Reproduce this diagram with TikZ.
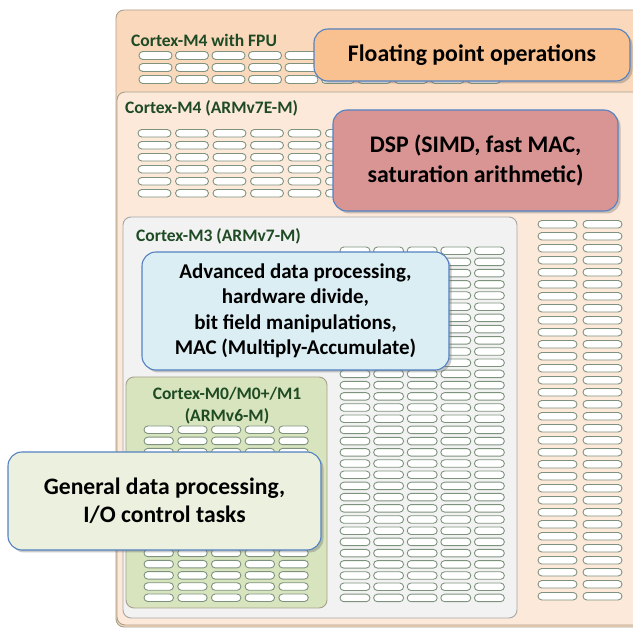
\documentclass[tikz,border=0pt]{standalone}
\usepackage{fontspec}
\setmainfont{Carlito}
\usetikzlibrary{shadows}

\definecolor{fpupeach}{HTML}{FAD8BC}
\definecolor{mfourpeach}{HTML}{FDE9DA}
\definecolor{mthreegray}{HTML}{F2F2F2}
\definecolor{mzerogreen}{HTML}{D7E4BD}
\definecolor{boxedge}{HTML}{A8A08C}
\definecolor{pilledge}{HTML}{7E937E}
\definecolor{labelgreen}{HTML}{1E4A24}
\definecolor{calloutedge}{HTML}{5482C2}
\definecolor{fpuorange}{HTML}{F9C190}
\definecolor{dsprose}{HTML}{D99594}
\definecolor{advblue}{HTML}{DBEEF4}
\definecolor{genlight}{HTML}{EBF1DE}

\begin{document}
\begin{tikzpicture}[x=1pt, y=-1pt, line join=round,
  pill/.style={draw=pilledge, fill=white, line width=0.9pt, rounded corners=3.8pt},
  corebox/.style={draw=boxedge, line width=0.9pt, rounded corners=8pt},
  corelabel/.style={inner sep=0pt, text=labelgreen, font=\bfseries\fontsize{17.5}{21}\selectfont},
  callout/.style={draw=calloutedge, line width=1.1pt, rounded corners=14pt, align=center,
    inner sep=0pt, font=\bfseries\fontsize{23.8}{30}\selectfont,
    drop shadow={shadow xshift=2.5pt, shadow yshift=-2.5pt, opacity=0.35, fill=black!60}}]

  %% ════ Cortex-M4 with FPU ════
  \draw[corebox, fill=fpupeach] (116,10) rectangle (650,627);
  \node[corelabel, anchor=west] (lblfpu) at (131,40) {Cortex-M4 with FPU};
  \foreach \r in {0,1,2}
    \foreach \c in {0,...,9}
      \draw[pill] (139+36.5*\c,51.5+12*\r) rectangle ++(33,8);

  %% ════ Cortex-M4 (ARMv7E-M) ════
  \draw[corebox, fill=mfourpeach] (117,92) rectangle (650,625);
  \node[corelabel, anchor=west] (lblmfour) at (125,108) {Cortex-M4 (ARMv7E-M)};
  \foreach \r in {0,...,5}
    \foreach \c in {0,...,5}
      \draw[pill] (138+37.5*\c,129.5+12*\r) rectangle ++(33,7.5);
  % two columns on the right
  \foreach \r in {0,...,31}
    \foreach \c in {0,1}
      \draw[pill] (538+45*\c,220.5+12*\r) rectangle ++(39,7.5);

  %% ════ Cortex-M3 (ARMv7-M) ════
  \draw[corebox, draw=black!35, fill=mthreegray] (123,217) rectangle (517,618);
  \node[corelabel, anchor=west] (lblmthree) at (136,236) {Cortex-M3 (ARMv7-M)};
  \foreach \r in {0,...,31}
    \foreach \c in {0,...,4}
      \draw[pill] (340+33.6*\c,247+11.2*\r) rectangle ++(30,7.5);

  %% ════ Cortex-M0/M0+/M1 ════
  \draw[corebox, fill=mzerogreen] (126,377) rectangle (327,608);
  \node[corelabel, align=center, font=\bfseries\fontsize{17.5}{22}\selectfont] (lblmzero) at (227,406)
    {Cortex-M0/M0+/M1\\(ARMv6-M)};
  \foreach \r in {0,...,15}
    \foreach \c in {0,...,4}
      \draw[pill] (144+33.7*\c,426+11.2*\r) rectangle ++(29.5,7.5);

  %% ════ callouts ════
  \node[callout, fill=fpuorange, minimum width=316, minimum height=52] (fpu) at (472,55)
    {Floating point operations};
  \node[callout, fill=dsprose, minimum width=285, minimum height=101] (dsp) at (475.5,160.5)
    {DSP (SIMD, fast MAC,\\saturation arithmetic)};
  \node[callout, fill=advblue, minimum width=307, minimum height=118,
    font=\bfseries\fontsize{21}{25.5}\selectfont] (adv) at (295.5,311)
    {Advanced data processing,\\hardware divide,\\bit field manipulations,\\MAC (Multiply-Accumulate)};
  \node[callout, fill=genlight, minimum width=313, minimum height=98,
    font=\bfseries\fontsize{23.6}{28}\selectfont] (gen) at (164.5,501)
    {General data processing,\\I/O control tasks};

  \pgfresetboundingbox
  \path[use as bounding box] (0,0) rectangle (633,628);
\end{tikzpicture}
\end{document}
